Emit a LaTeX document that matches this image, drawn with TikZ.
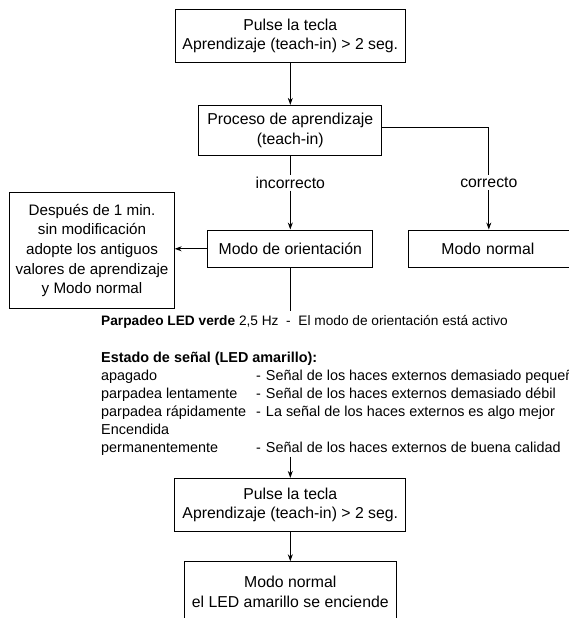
\documentclass[tikz,border=0pt]{standalone}
\usepackage{fontspec}
\setmainfont{Liberation Sans}
\usetikzlibrary{arrows.meta,calc}
\newcommand\boxfont{\fontsize{15.8}{19.6}\selectfont}
\newcommand\txtfont{\fontsize{14.4}{18}\selectfont}
\newcommand\topfont{\fontsize{13.7}{18}\selectfont}
\begin{document}
\begin{tikzpicture}[x=1pt,y=-1pt,
  box/.style={draw, line width=0.9pt, inner sep=0pt, align=center, font=\boxfont},
  lbl/.style={fill=white, inner sep=2pt, font=\boxfont},
  arr/.style={line width=0.9pt, -{Stealth[length=7pt,width=5pt]}},
  ln/.style={line width=0.9pt},
  txt/.style={anchor=base west, inner sep=0pt, font=\txtfont}]
\useasboundingbox (0,0) rectangle (569,618);
\clip (0,0) rectangle (569,618);
% boxes
\node[box, minimum width=230pt, minimum height=53pt] (b1) at (290.3,36) {Pulse la tecla\\Aprendizaje (teach-in) > 2 seg.};
\node[box, minimum width=183pt, minimum height=50pt] (b2) at (290.3,130.3) {Proceso de aprendizaje\\(teach-in)};
\node[box, minimum width=165pt, minimum height=37.7pt] (b3) at (290.3,248.8) {Modo de orientación};
\node[box, anchor=west, text width=108pt, align=left, inner xsep=32.7pt, minimum height=37.7pt] (b4) at (408.2,248.8) {Modo normal};
\node[box, minimum width=164.4pt, minimum height=115.7pt, font=\fontsize{15.2}{19.6}\selectfont] (b5) at (92,250.5) {Después de 1 min.\\sin modificación\\adopte los antiguos\\valores de aprendizaje\\y Modo normal};
\node[box, minimum width=231pt, minimum height=53.3pt] (b6) at (290.3,505) {Pulse la tecla\\Aprendizaje (teach-in) > 2 seg.};
\node[box, minimum width=212pt, minimum height=60pt] (b7) at (290.3,591.7) {Modo normal\\el LED amarillo se enciende};
% labels
\node[lbl] (linc) at (290.3,182.7) {incorrecto};
\node[lbl] (lcor) at (488.8,182.7) {correcto};
% connectors
\draw[arr] (b1.south) -- (b2.north);
\draw[ln] (b2.south) -- (linc.north);
\draw[arr] (linc.south) -- (b3.north);
\draw[ln] (b2.east |- 0,127) -| (lcor.north);
\draw[arr] (lcor.south) -- (lcor.south |- b4.north);
\draw[arr] (b3.west) -- (b3.west -| b5.east);
\coordinate (e3) at (290.3,311);
\draw[ln] (b3.south) -- (e3);
\coordinate (s6) at (290.3,456.7);
\draw[arr] (s6) -- (b6.north);
\draw[arr] (b6.south) -- (b7.north);
% text block
\node[txt, font=\topfont] (t0) at (101,325.5) {\textbf{Parpadeo LED verde} 2,5 Hz \ -\ \ El modo de orientación está activo};
\node[txt] (t1) at (101,362) {\textbf{Estado de señal (LED amarillo):}};
\node[txt] (t2a) at (101,380) {apagado};
\node[txt] (t2b) at (256,380) {-\hspace{5pt}Señal de los haces externos demasiado pequeña};
\node[txt] (t3a) at (101,398.2) {parpadea lentamente};
\node[txt] (t3b) at (256,398.2) {-\hspace{5pt}Señal de los haces externos demasiado débil};
\node[txt] (t4a) at (101,416.4) {parpadea rápidamente};
\node[txt] (t4b) at (256,416.4) {-\hspace{5pt}La señal de los haces externos es algo mejor};
\node[txt] (t5a) at (101,434.6) {Encendida};
\node[txt] (t6a) at (101,452.8) {permanentemente};
\node[txt] (t6b) at (256,452.8) {-\hspace{5pt}Señal de los haces externos de buena calidad};
\end{tikzpicture}
\end{document}
